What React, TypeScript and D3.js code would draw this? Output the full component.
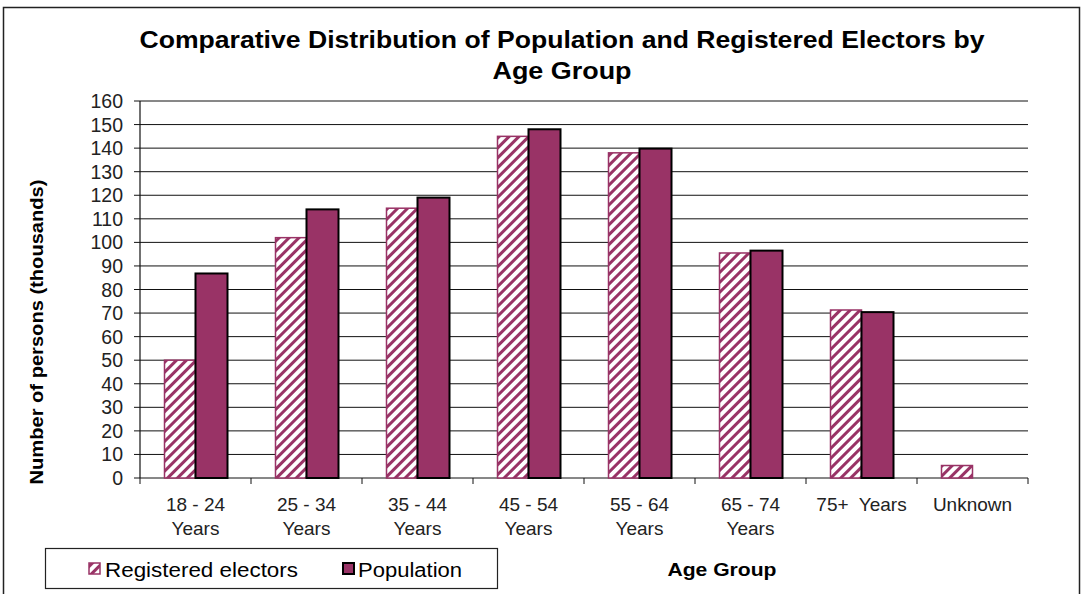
import React from 'react';
import * as d3 from 'd3';

const categories = ['18 - 24|Years', '25 - 34|Years', '35 - 44|Years', '45 - 54|Years', '55 - 64|Years', '65 - 74|Years', '75+\u00a0 Years', 'Unknown'];
const electors = [50, 102, 114.5, 145, 138, 95.5, 71.3, 5.3];
const population = [86.8, 114, 119, 148, 139.8, 96.5, 70.4, 0];
const yTicks = d3.range(0, 161, 10);

const W = 1086;
const H = 594;
const plum = '#993366';
const font = 'Liberation Sans, Arial, sans-serif';

const App: React.FC = () => {
  const x = d3.scaleBand().domain(categories).range([140, 1028]);
  const y = d3.scaleLinear().domain([0, 160]).range([478, 101]);
  const barW = 31;

  return (
    <svg width={W} height={H} style={{ position: 'absolute', left: 0, top: 0 }} fontFamily={font}>
      <defs>
        <pattern id="hatch" width="7" height="7" patternUnits="userSpaceOnUse" patternTransform="rotate(45)">
          <rect width="7" height="7" fill="#fff" />
          <rect x="0" y="0" width="3" height="7" fill={plum} />
        </pattern>
      </defs>
      <rect x={0} y={0} width={W} height={H} fill="#fff" />
      {/* outer frame */}
      <rect x={3.5} y={7.5} width={1076} height={600} fill="none" stroke="#222" strokeWidth={1.5} />

      <text x={562} y={48} textAnchor="middle" fontWeight="bold" fontSize={24} fill="#000"
        textLength={845} lengthAdjust="spacingAndGlyphs">
        Comparative Distribution of Population and Registered Electors by
      </text>
      <text x={562} y={79} textAnchor="middle" fontWeight="bold" fontSize={24} fill="#000"
        textLength={139} lengthAdjust="spacingAndGlyphs">
        Age Group
      </text>

      {/* gridlines */}
      {yTicks.map(t => (
        <g key={`g-${t}`}>
          <line x1={134} x2={1028} y1={y(t)} y2={y(t)} stroke="#111" strokeWidth={1} />
          <text x={123} y={y(t) + 7} textAnchor="end" fontSize={19.5} fill="#222">{t}</text>
        </g>
      ))}
      <line x1={140} x2={140} y1={y(160)} y2={y(0)} stroke="#111" strokeWidth={1.2} />
      {/* x ticks */}
      {[...categories.map(c => x(c)!), 1028].map((p, i) => (
        <line key={`xt-${i}`} x1={p} x2={p} y1={478} y2={484} stroke="#111" />
      ))}

      {/* bars */}
      {categories.map((c, i) => {
        const cx = x(c)! + x.bandwidth() / 2;
        return (
          <g key={`b-${i}`}>
            {electors[i] > 0 && (
              <rect x={cx - barW} y={y(electors[i])} width={barW} height={y(0) - y(electors[i])}
                fill="url(#hatch)" stroke={plum} strokeWidth={1.5} />
            )}
            {population[i] > 0 && (
              <rect x={cx} y={y(population[i])} width={barW + 1} height={y(0) - y(population[i])}
                fill={plum} stroke="#000" strokeWidth={2} />
            )}
          </g>
        );
      })}

      {/* x labels */}
      {categories.map((c, i) => {
        const cx = x(c)! + x.bandwidth() / 2;
        return c.split('|').map((ln, j) => (
          <text key={`xl-${i}-${j}`} x={cx} y={511 + j * 24} textAnchor="middle" fontSize={19} fill="#222">{ln}</text>
        ));
      })}

      <text transform="translate(43,332) rotate(-90)" textAnchor="middle" fontWeight="bold" fontSize={18} fill="#000"
        textLength={305} lengthAdjust="spacingAndGlyphs">
        Number of persons (thousands)
      </text>
      <text x={722} y={576} textAnchor="middle" fontWeight="bold" fontSize={19} fill="#000"
        textLength={109} lengthAdjust="spacingAndGlyphs">Age Group</text>

      {/* legend */}
      <rect x={45.5} y={548.5} width={452} height={40} fill="#fff" stroke="#222" strokeWidth={1.2} />
      <rect x={89} y={563} width={11} height={11} fill="url(#hatch)" stroke={plum} strokeWidth={1.5} />
      <text x={105} y={577} fontSize={20} fill="#000" textLength={193} lengthAdjust="spacingAndGlyphs">Registered electors</text>
      <rect x={343} y={563} width={11} height={11} fill={plum} stroke="#000" strokeWidth={2} />
      <text x={358} y={577} fontSize={20} fill="#000" textLength={104} lengthAdjust="spacingAndGlyphs">Population</text>
    </svg>
  );
};

export default App;
